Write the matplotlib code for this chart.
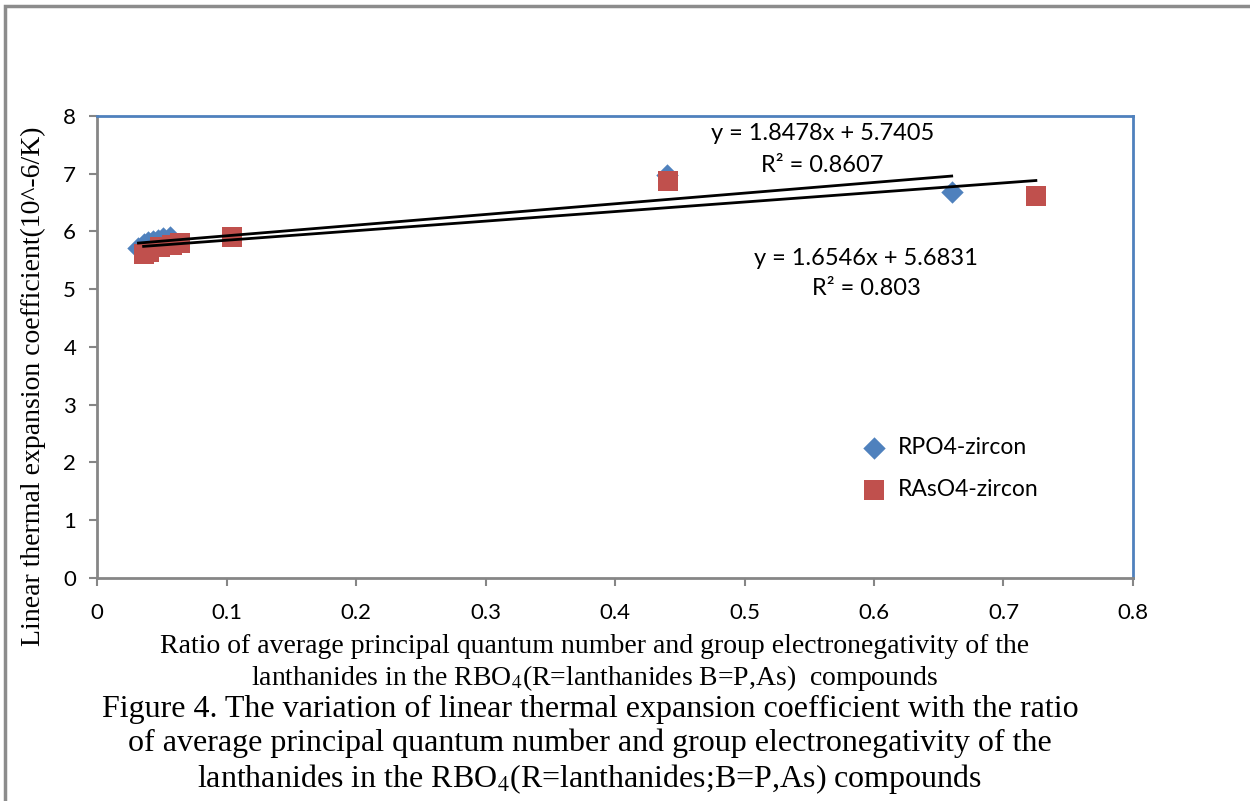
import numpy as np
import matplotlib
matplotlib.use('Agg')
import matplotlib.pyplot as plt
from matplotlib.patches import Rectangle

plt.rcParams['mathtext.fontset'] = 'stix'

# RPO4-zircon (blue diamonds)
rpo4_x = [0.032, 0.036, 0.039, 0.043, 0.047, 0.051, 0.056, 0.44, 0.66]
rpo4_y = [5.72, 5.78, 5.82, 5.84, 5.86, 5.88, 5.91, 6.97, 6.68]
# RAsO4-zircon (red squares)
raso4_x = [0.036, 0.040, 0.049, 0.058, 0.064, 0.104, 0.441, 0.725]
raso4_y = [5.61, 5.64, 5.73, 5.76, 5.80, 5.90, 6.87, 6.61]

# trendline coefficients as printed on the chart
fit_rpo4 = (1.8478, 5.7405)
fit_raso4 = (1.6546, 5.6831)
eq_rpo4 = ['y = 1.8478x + 5.7405', 'R² = 0.8607']
eq_raso4 = ['y = 1.6546x + 5.6831', 'R² = 0.803']

xticks = [0, 0.1, 0.2, 0.3, 0.4, 0.5, 0.6, 0.7, 0.8]
xticklabels = ['0', '0.1', '0.2', '0.3', '0.4', '0.5', '0.6', '0.7', '0.8']
yticks = [0, 1, 2, 3, 4, 5, 6, 7, 8]

blue = '#4F81BD'
red = '#C0504D'
gray = '#868686'
tickfont = 'Lato'
serif = 'Liberation Serif'

fig = plt.figure(figsize=(12.5, 8.01), dpi=100)
# outer frame of the figure (top and left visible)
fig.add_artist(Rectangle((0.004, -0.05), 1.2, 1.043, transform=fig.transFigure,
                         fill=False, edgecolor='#8C8C8C', linewidth=2.5))

ax = fig.add_axes([0.0776, 0.2784, 0.8288, 0.5768])

ax.scatter(rpo4_x, rpo4_y, marker='D', s=130, color=blue, zorder=3,
           label='RPO4-zircon', linewidths=0)
ax.scatter(raso4_x, raso4_y, marker='s', s=215, color=red, zorder=4,
           label='RAsO4-zircon', linewidths=0)

for xs, (m, b) in [(rpo4_x, fit_rpo4), (raso4_x, fit_raso4)]:
    xx = np.array([min(xs), max(xs)])
    ax.plot(xx, m * xx + b, color='black', linewidth=2, zorder=5)

ax.text(0.560, 7.70, eq_rpo4[0], fontsize=17, family=tickfont, ha='center', va='center')
ax.text(0.560, 7.15, eq_rpo4[1], fontsize=17, family=tickfont, ha='center', va='center')
ax.text(0.594, 5.54, eq_raso4[0], fontsize=17, family=tickfont, ha='center', va='center')
ax.text(0.594, 5.02, eq_raso4[1], fontsize=17, family=tickfont, ha='center', va='center')

ax.set_xlim(0, 0.8)
ax.set_ylim(0, 8)
ax.set_xticks(xticks)
ax.set_xticklabels(xticklabels)
ax.set_yticks(yticks)
for lab in ax.get_xticklabels() + ax.get_yticklabels():
    lab.set_family(tickfont)
    lab.set_fontsize(16)
ax.tick_params(axis='both', direction='out', length=6, width=1.5, color=gray)
ax.tick_params(axis='x', pad=12)
ax.tick_params(axis='y', pad=9)

ax.spines['left'].set_color(gray)
ax.spines['bottom'].set_color(gray)
ax.spines['left'].set_linewidth(2)
ax.spines['bottom'].set_linewidth(2)
ax.spines['top'].set_color(blue)
ax.spines['right'].set_color(blue)
ax.spines['top'].set_linewidth(2)
ax.spines['right'].set_linewidth(2)

leg = ax.legend(loc='lower left', bbox_to_anchor=(0.719, 0.15), frameon=False,
                prop={'family': tickfont, 'size': 16.5}, handletextpad=0.05,
                labelspacing=0.9, markerscale=1.0, borderaxespad=0)

ax.set_ylabel('Linear thermal expansion coefficient(10^-6/K)', family=serif,
              fontsize=20)
ax.yaxis.set_label_coords(-0.049, 0.416)

fig.text(0.476, 0.193, 'Ratio of average principal quantum number and group electronegativity of the',
         family=serif, fontsize=20, ha='center', va='center')
fig.text(0.476, 0.153, r'lanthanides in the RBO$_4$(R=lanthanides B=P,As)  compounds',
         family=serif, fontsize=20, ha='center', va='center')

fig.text(0.472, 0.114, 'Figure 4. The variation of linear thermal expansion coefficient with the ratio',
         family=serif, fontsize=23, ha='center', va='center')
fig.text(0.472, 0.072, 'of average principal quantum number and group electronegativity of the',
         family=serif, fontsize=23, ha='center', va='center')
fig.text(0.472, 0.028, r'lanthanides in the RBO$_4$(R=lanthanides;B=P,As) compounds',
         family=serif, fontsize=23, ha='center', va='center')

fig.savefig('out.png', dpi=100)
